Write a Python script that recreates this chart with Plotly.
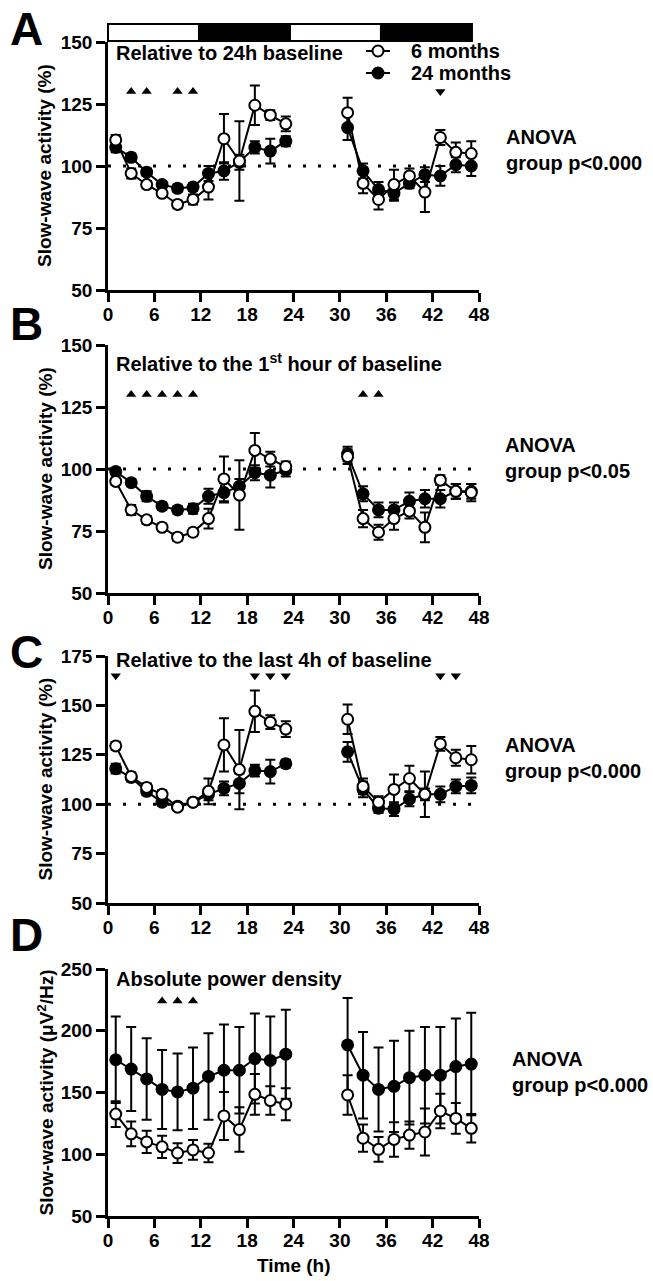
import plotly.graph_objects as go

# ---------------- data ----------------
hours_day1 = [1, 3, 5, 7, 9, 11, 13, 15, 17, 19, 21, 23]
hours_day2 = [31, 33, 35, 37, 39, 41, 43, 45, 47]
x_ticks = [0, 6, 12, 18, 24, 30, 36, 42, 48]
light_dark_edges = [0, 12, 24, 36, 48]
light_dark_fill = ["white", "black", "white", "black"]

# Panel A: relative to 24h baseline (%)
A_6m_d1 = [110.5, 97, 92.5, 89, 84.5, 86.5, 91.5, 111, 102, 124.5, 120.5, 117]
A_6m_d1_sem = [2, 2, 1.5, 1.5, 1.5, 2, 5, 10, 16, 8, 2, 3]
A_24m_d1 = [107.5, 103.5, 97.5, 92.5, 91, 91.5, 97, 98, 101.5, 107.5, 106, 110]
A_24m_d1_sem = [2, 1.5, 1.5, 1.5, 1.5, 1.5, 3, 3.5, 3, 2.5, 5, 2]
A_6m_d2 = [121.5, 93, 86.5, 92.5, 96, 89.5, 111.5, 105.5, 105]
A_6m_d2_sem = [6, 4, 4, 6, 3, 8, 3, 4, 5]
A_24m_d2 = [115.5, 98, 90.5, 89, 93, 96.5, 96, 100.5, 100]
A_24m_d2_sem = [5, 3, 3, 3, 2, 3, 4, 3, 4]
A_sig_up = [3, 5, 9, 11]
A_sig_down = [43]

# Panel B: relative to the 1st hour of baseline (%)
B_6m_d1 = [95, 83.5, 79.5, 76.5, 72.5, 74.5, 80, 96, 89.5, 107.5, 104, 101]
B_6m_d1_sem = [1.5, 2, 1.5, 1.5, 1.5, 1.5, 4, 9, 14, 7, 3, 2]
B_24m_d1 = [99, 94.5, 89, 85, 83.5, 84, 89, 90.5, 93, 98.5, 97.5, 99.5]
B_24m_d1_sem = [1.5, 1.5, 2, 1.5, 1.5, 2, 3, 4, 3, 3, 5, 2.5]
B_6m_d2 = [105, 80, 74.5, 80, 83, 76.5, 95.5, 91, 90.5]
B_6m_d2_sem = [3, 3.5, 3, 4.5, 3, 6, 2, 3, 3.5]
B_24m_d2 = [106, 90, 83.5, 83.5, 87, 88, 88, 91, 91]
B_24m_d2_sem = [3, 3, 3, 3, 3.5, 3.5, 3.5, 3, 3]
B_sig_up = [3, 5, 7, 9, 11, 33, 35]
B_sig_down = []

# Panel C: relative to the last 4h of baseline (%)
C_6m_d1 = [129.5, 114, 108.5, 105, 98.5, 101, 106.5, 130, 117.5, 147, 141.5, 138]
C_6m_d1_sem = [2, 2, 2, 2, 1.5, 1.5, 6.5, 13.5, 20, 10.5, 3.5, 4]
C_24m_d1 = [118, 113.5, 106.5, 101, 99, 101, 105, 108, 110.5, 117, 116.5, 120.5]
C_24m_d1_sem = [2.5, 2, 2, 1.5, 1.5, 1.5, 3, 3.5, 5, 3, 6, 2]
C_6m_d2 = [143, 109, 101, 107.5, 113, 105, 130.5, 123.5, 122.5]
C_6m_d2_sem = [7.5, 4, 3, 7.5, 6.5, 11.5, 3.5, 4, 7]
C_24m_d2 = [126.5, 107.5, 98, 97.5, 102.5, 105, 105, 109, 109.5]
C_24m_d2_sem = [5, 4, 2.5, 3.5, 3.5, 3, 4, 3.5, 4]
C_sig_up = []
C_sig_down = [1, 19, 21, 23, 43, 45]

# Panel D: absolute power density (uV^2/Hz)
D_6m_d1 = [132.5, 116.5, 110, 106, 101, 103.5, 101, 131, 120, 148.5, 143.5, 140.5]
D_6m_d1_sem = [10.5, 10, 9, 9, 8, 8, 7.5, 19.5, 18, 16.5, 11.5, 13]
D_24m_d1 = [176.5, 169, 161, 152.5, 150.5, 153.5, 163, 168, 168, 177.5, 176, 181]
D_24m_d1_sem = [35, 34, 33, 32, 31, 33, 35, 37, 35, 36.5, 35.5, 36]
D_6m_d2 = [148, 113, 104, 112, 115.5, 118, 135, 129, 121]
D_6m_d2_sem = [16, 11, 10, 14, 11, 19, 14, 12.5, 11.5]
D_24m_d2 = [188.5, 164, 152.5, 155, 162, 164, 164, 171, 173]
D_24m_d2_sem = [38, 35, 34, 37, 38, 39, 39, 39, 41.5]
D_sig_up = [7, 9, 11]
D_sig_down = []

series_names = ["6 months", "24 months"]
panel_letters = ["A", "B", "C", "D"]
panel_subtitles = ["Relative to 24h baseline",
                   "Relative to the 1<sup>st</sup> hour of baseline",
                   "Relative to the last 4h of baseline",
                   "Absolute power density"]
anova_texts = ["ANOVA<br>group p<0.000", "ANOVA<br>group p<0.05",
               "ANOVA<br>group p<0.000", "ANOVA<br>group p<0.000"]
y_titles = ["Slow-wave activity (%)", "Slow-wave activity (%)",
            "Slow-wave activity (%)", "Slow-wave activity (μV<sup>2</sup>/Hz)"]
y_ranges = [[50, 150], [50, 150], [50, 175], [50, 250]]
y_dticks = [25, 25, 25, 50]
sig_levels = [130, 130, 165, 224]
ref_level = [100, 100, 100, None]

data = [
    (A_6m_d1, A_6m_d1_sem, A_6m_d2, A_6m_d2_sem, A_24m_d1, A_24m_d1_sem, A_24m_d2, A_24m_d2_sem, A_sig_up, A_sig_down),
    (B_6m_d1, B_6m_d1_sem, B_6m_d2, B_6m_d2_sem, B_24m_d1, B_24m_d1_sem, B_24m_d2, B_24m_d2_sem, B_sig_up, B_sig_down),
    (C_6m_d1, C_6m_d1_sem, C_6m_d2, C_6m_d2_sem, C_24m_d1, C_24m_d1_sem, C_24m_d2, C_24m_d2_sem, C_sig_up, C_sig_down),
    (D_6m_d1, D_6m_d1_sem, D_6m_d2, D_6m_d2_sem, D_24m_d1, D_24m_d1_sem, D_24m_d2, D_24m_d2_sem, D_sig_up, D_sig_down),
]

# ---------------- layout geometry (pixels) ----------------
W, H = 653, 1281
ML, MR, MT, MB = 108, 174, 42, 65
PW = W - ML - MR
PH = H - MT - MB
panel_px = [(42, 290), (345, 593), (656, 903), (969, 1216)]
letter_y = [29, 324, 652, 935]
subtitle_y = [53, 362, 660, 979]
anova_y = [150, 458, 758, 1072]
anova_x = [504, 503, 503, 510]


def px_x(px):
    return (px - ML) / PW


def px_y(py):
    return 1 - (py - MT) / PH


FONT = "Liberation Sans, Arial, Helvetica, sans-serif"
fig = go.Figure()
annotations = []
shapes = []


def gap(a, b):
    return list(a) + [None] + list(b)


for i in range(4):
    (o1, o1e, o2, o2e, f1, f1e, f2, f2e, sup, sdown) = data[i]
    xa = "x" if i == 0 else f"x{i+1}"
    ya = "y" if i == 0 else f"y{i+1}"
    xs = gap(hours_day1, hours_day2)
    # 24 months (filled)
    fig.add_trace(go.Scatter(
        x=xs, y=gap(f1, f2), xaxis=xa, yaxis=ya, mode="lines+markers",
        name=series_names[1], showlegend=False,
        line=dict(color="black", width=2),
        marker=dict(symbol="circle", size=11, color="black", line=dict(color="black", width=2)),
        error_y=dict(type="data", array=gap(f1e, f2e), color="black", thickness=2, width=5),
    ))
    # 6 months (open)
    fig.add_trace(go.Scatter(
        x=xs, y=gap(o1, o2), xaxis=xa, yaxis=ya, mode="lines+markers",
        name=series_names[0], showlegend=False,
        line=dict(color="black", width=2),
        marker=dict(symbol="circle", size=11, color="white", line=dict(color="black", width=2)),
        error_y=dict(type="data", array=gap(o1e, o2e), color="black", thickness=2, width=5),
    ))
    if sup:
        fig.add_trace(go.Scatter(x=sup, y=[sig_levels[i]] * len(sup), xaxis=xa, yaxis=ya,
                                 mode="markers", showlegend=False, hoverinfo="skip",
                                 marker=dict(symbol="triangle-up", size=9, color="black")))
    if sdown:
        fig.add_trace(go.Scatter(x=sdown, y=[sig_levels[i]] * len(sdown), xaxis=xa, yaxis=ya,
                                 mode="markers", showlegend=False, hoverinfo="skip",
                                 marker=dict(symbol="triangle-down", size=9, color="black")))
    if ref_level[i] is not None:
        shapes.append(dict(type="line", xref=xa, yref=ya, x0=x_ticks[0], x1=x_ticks[-1],
                           y0=ref_level[i], y1=ref_level[i], layer="below",
                           line=dict(color="black", width=3, dash="3px,12px")))

    top, bot = panel_px[i]
    axis_common = dict(showline=True, linecolor="black", linewidth=2.5, ticks="outside",
                       ticklen=9, tickwidth=2.5, tickcolor="black", showgrid=False,
                       zeroline=False, tickfont=dict(family=FONT, size=19, color="black", weight="bold"))
    fig.update_layout(**{
        ("xaxis" if i == 0 else f"xaxis{i+1}"): dict(
            domain=[0, 1], anchor=ya, range=[x_ticks[0], x_ticks[-1]], tickvals=x_ticks,
            ticklabelstandoff=-4, **axis_common),
        ("yaxis" if i == 0 else f"yaxis{i+1}"): dict(
            domain=[px_y(bot), px_y(top)], anchor=xa, range=y_ranges[i], dtick=y_dticks[i],
            tick0=y_ranges[i][0], **axis_common),
    })

    # panel letter
    annotations.append(dict(text=f"<b>{panel_letters[i]}</b>", xref="paper", yref="paper",
                            x=px_x(8), y=px_y(letter_y[i]), xanchor="left", yanchor="middle",
                            showarrow=False, font=dict(family=FONT, size=46, color="black")))
    # subtitle
    annotations.append(dict(text=f"<b>{panel_subtitles[i]}</b>", xref="paper", yref="paper",
                            x=px_x(114), y=px_y(subtitle_y[i]), xanchor="left", yanchor="middle",
                            showarrow=False, font=dict(family=FONT, size=20, color="black")))
    # ANOVA
    annotations.append(dict(text=f"<b>{anova_texts[i]}</b>", xref="paper", yref="paper",
                            x=px_x(anova_x[i]), y=px_y(anova_y[i]), xanchor="left", yanchor="middle",
                            align="left", showarrow=False, font=dict(family=FONT, size=20, color="black")))
    # y title
    annotations.append(dict(text=f"<b>{y_titles[i]}</b>", xref="paper", yref="paper",
                            x=px_x(45), y=px_y((top + bot) / 2), xanchor="center", yanchor="middle",
                            textangle=-90, showarrow=False, font=dict(family=FONT, size=19, color="black")))

# x title
annotations.append(dict(text="<b>Time (h)</b>", xref="paper", yref="paper", x=0.5, y=px_y(1265),
                        xanchor="center", yanchor="middle", showarrow=False,
                        font=dict(family=FONT, size=19, color="black")))

# light/dark bar above panel A
bar_top, bar_bot = 24, 41
bar_scale = 0.981
for k in range(len(light_dark_fill)):
    shapes.append(dict(type="rect", xref="paper", yref="paper",
                       x0=light_dark_edges[k] / light_dark_edges[-1] * bar_scale,
                       x1=light_dark_edges[k + 1] / light_dark_edges[-1] * bar_scale,
                       y0=px_y(bar_bot), y1=px_y(bar_top),
                       fillcolor=light_dark_fill[k], line=dict(color="black", width=2)))

# manual legend (symbol + label) in panel A
legend_rows = [(series_names[0], "white", 51), (series_names[1], "black", 73)]
for name, fillc, ly in legend_rows:
    shapes.append(dict(type="line", xref="paper", yref="paper",
                       x0=px_x(366), x1=px_x(390), y0=px_y(ly), y1=px_y(ly),
                       line=dict(color="black", width=2)))
    r = 5.5
    shapes.append(dict(type="circle", xref="paper", yref="paper",
                       x0=px_x(378 - r), x1=px_x(378 + r), y0=px_y(ly + r), y1=px_y(ly - r),
                       fillcolor=fillc, line=dict(color="black", width=2)))
    annotations.append(dict(text=f"<b>{name}</b>", xref="paper", yref="paper",
                            x=px_x(409), y=px_y(ly), xanchor="left", yanchor="middle",
                            showarrow=False, font=dict(family=FONT, size=20, color="black")))

fig.update_layout(
    width=W, height=H,
    margin=dict(l=ML, r=MR, t=MT, b=MB),
    paper_bgcolor="white", plot_bgcolor="white",
    font=dict(family=FONT, color="black"),
    annotations=annotations, shapes=shapes,
    showlegend=False,
)

fig.write_html("out.html", config={"displayModeBar": False},
               post_script="document.body.style.margin='0px';")
